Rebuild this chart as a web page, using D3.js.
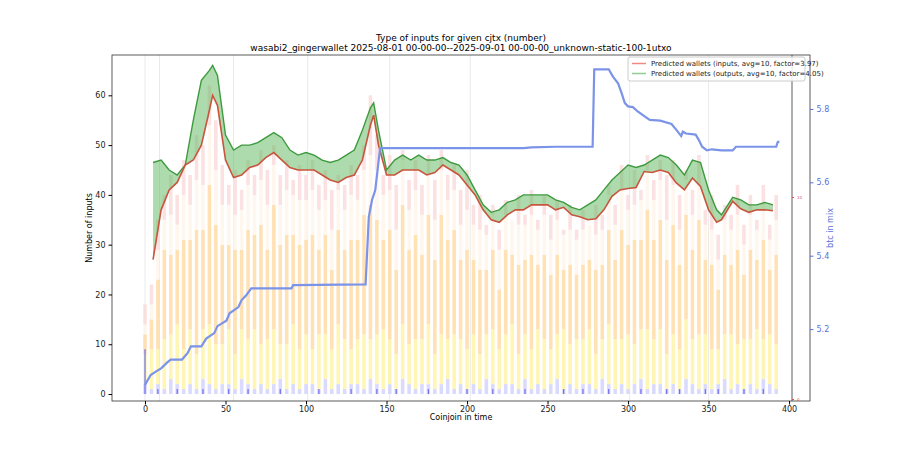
<!DOCTYPE html>
<html><head><meta charset="utf-8">
<script src="https://cdn.jsdelivr.net/npm/d3@7"></script>
<style>body{margin:0;background:#fff}text{font-family:"DejaVu Sans",sans-serif}</style>
</head><body><svg id="c" width="900" height="450"></svg>
<script>
const barX=d3.range(0,393,4);
const totals=[18,22,35,40,44,40,47,44,52,50,62,55,46,42,45,41,47,44,49,45,50,44,47,43,46,44,47,42,45,41,44,42,46,44,50,60,52,44,48,42,49,43,47,42,48,43,49,44,46,41,45,38,40,34,38,33,39,35,40,36,41,35,40,36,39,33,38,33,37,34,38,36,42,38,46,40,45,41,48,43,47,44,47,40,45,41,48,37,40,32,38,36,42,34,40,35,42,34,40];
const lav=[2,1,2,1,3,2,1,2,1,3,2,1,2,2,1,3,2,1,2,1,2,3,1,2,1,2,2,1,3,1,2,1,2,2,1,3,2,1,2,1,3,2,1,2,2,1,2,3,1,2,1,2,1,3,2,1,2,2,1,3,1,2,1,2,3,1,2,1,2,2,1,3,2,1,2,1,2,3,1,2,2,1,2,1,3,2,1,2,1,2,3,1,2,1,2,1,3,2,1];
const yel=[6,8,7,10,9,12,8,11,7,10,12,9,8,11,7,10,9,12,8,10,11,7,9,12,8,10,7,11,9,8,12,10,7,9,11,8,10,12,9,7,11,8,10,9,12,7,10,8,11,9,8,10,7,9,11,8,10,12,7,9,8,11,10,7,9,12,8,10,9,11,7,8,12,10,9,11,8,10,12,9,11,7,10,8,12,9,11,10,8,7,9,11,8,10,9,12,8,10,9];
const ora=[4,6,14,18,16,15,22,18,25,20,28,24,20,17,21,16,22,19,24,18,25,20,22,18,21,19,23,17,20,16,19,18,22,20,24,27,23,18,22,17,24,19,21,17,22,19,24,20,21,16,20,15,17,13,16,12,17,14,18,15,19,13,17,15,16,12,16,13,15,14,17,15,19,16,22,18,21,18,24,20,22,19,22,17,21,18,23,15,17,12,16,14,19,13,18,14,20,13,18];
const cream=[2,3,6,6,8,5,9,7,10,9,12,11,8,8,7,8,9,8,9,9,8,8,9,8,9,8,9,8,7,8,8,8,9,8,9,10,10,9,8,8,9,8,9,8,8,8,9,8,8,7,8,7,8,7,7,8,7,7,8,7,8,7,8,7,7,7,7,7,7,7,7,7,7,7,8,7,7,8,8,8,8,8,8,7,7,7,7,7,7,6,7,7,7,6,7,6,7,6,7];
const darkBlue=[9,0,1,0,0,1,0,0,0,1,0,0,0,1,0,0,1,0,0,0,0,1,0,0,0,0,0,1,0,0,0,0,1,0,0,0,1,0,0,1,0,0,0,0,1,0,0,0,0,0,1,0,0,0,1,0,0,0,0,1,0,0,0,0,0,1,0,0,1,0,0,0,1,0,0,0,0,1,0,0,0,1,0,1,0,0,0,1,0,1,0,0,0,1,0,0,1,0,0];
const predX=[5,10,15,20,25,30,35,40,42,45,50,55,60,65,70,75,80,85,90,95,100,105,110,115,120,125,130,135,140,142,145,150,155,160,165,170,175,180,185,190,195,200,205,210,215,220,225,230,235,240,245,250,255,260,265,270,275,280,285,290,295,300,305,310,315,320,325,330,335,340,345,350,355,358,365,370,375,380,385,390];
const predIn=[27,37,41,42.5,46,47,50,57,60,58,47,43.5,44,45.5,46,47.5,48.5,47,45.5,45,45,45,44,43,42.5,43.5,44,47,54,56,50,44,44,45,45,45,44,44.5,46,45,44,42,40,37,35,34.5,36,37,37,38,38,38,37,37.5,36,35.6,35,35.2,37,39.7,41,41.3,41.5,44.7,44.5,45,44.5,42.4,41,43.4,41.7,37,34.5,35,38.7,37.2,36.5,37,37,36.8];
const predOut=[46.5,47,45,44,46,55,63,65,66,64,52,49,50,50,50.5,51.5,52.5,51.5,49,48,48.5,48,47,46.5,47,48,49,53,57.5,58.5,53,45,47,48,47,48,47,47,47.5,46.5,46,44,41,38,36.5,37,38.5,39,40,40,40,40,39,38.5,37.5,37,38,39,41,43,44.5,46,45.5,46,47,48,47.5,46,44,47,46.5,41,37,36,39.5,39,38,38,38.5,38];
const btcX=[0,3.5,6.7,10,14,16,23,26.5,28.5,35,38,43,45,50.5,52.5,58,60,63,66,91,92,137,139,141,143,146,235,240,255,278,279,288,290.6,293.8,296,298,300,303,306,310.5,313.5,320,327,330,333,334,336,342,344,346,349,352,358,365,367,392,393,394];
const btc=[5.048,5.075,5.084,5.093,5.11,5.117,5.117,5.135,5.153,5.153,5.174,5.189,5.208,5.223,5.243,5.26,5.279,5.293,5.311,5.311,5.32,5.322,5.506,5.552,5.579,5.693,5.693,5.695,5.697,5.697,5.908,5.908,5.888,5.87,5.843,5.816,5.807,5.805,5.793,5.779,5.77,5.768,5.759,5.743,5.726,5.738,5.733,5.73,5.715,5.697,5.687,5.69,5.687,5.687,5.697,5.697,5.71,5.711];
const gridX=[0,9,55,101,152,202,301,350];
const xTicks=[0,50,100,150,200,250,300,350,400];
const yTicks=[0,10,20,30,40,50,60];
const btcTicks=[5.2,5.4,5.6,5.8];

const svg=d3.select("#c");
const L=112,R=810,T=55,B=401;
const x=d3.scaleLinear().domain([-20.5,413]).range([L,R]);
const y=d3.scaleLinear().domain([-1.4,68.1]).range([B,T]);
const yb=d3.scaleLinear().domain([5.004,5.947]).range([B,T]);
const yr=d3.scaleLinear().domain([0,10]).range([B-2,197]);

svg.append("g").selectAll("line").data(gridX).join("line")
 .attr("x1",d=>x(d)).attr("x2",d=>x(d)).attr("y1",T).attr("y2",B)
 .attr("stroke","#e4e4e4").attr("stroke-width",0.8);

const layers=[["lav",lav,"#d4d4ff"],["yel",yel,"#fff4a8"],["ora",ora,"#ffdca8"],["cream",cream,"#fff6ec"]];
const bw=x(2.2)-x(0);
const bars=svg.append("g").attr("opacity",0.85);
barX.forEach((bx,i)=>{
  let base=0;
  layers.forEach(([n,arr,c])=>{
    bars.append("rect").attr("x",x(bx)-bw/2).attr("width",bw)
      .attr("y",y(base+arr[i])).attr("height",y(base)-y(base+arr[i])).attr("fill",c);
    base+=arr[i];
  });
  if(totals[i]>base) bars.append("rect").attr("x",x(bx)-bw/2).attr("width",bw)
      .attr("y",y(totals[i])).attr("height",y(base)-y(totals[i])).attr("fill","#fbdcdc");
  if(darkBlue[i]>0) bars.append("rect").attr("x",x(bx)-0.6).attr("width",1.2)
      .attr("y",y(darkBlue[i])).attr("height",y(0)-y(darkBlue[i])).attr("fill","#5555ee");
});

const pi=predX.map((d,i)=>[d,predIn[i],predOut[i]]);
svg.append("path").datum(pi).attr("d",d3.area().x(d=>x(d[0])).y0(d=>y(d[1])).y1(d=>y(d[2])))
 .attr("fill","#5cb85c").attr("fill-opacity",0.5);
svg.append("path").datum(pi).attr("d",d3.line().x(d=>x(d[0])).y(d=>y(d[2])))
 .attr("fill","none").attr("stroke","#3f9a3f").attr("stroke-width",1.4);
svg.append("path").datum(pi).attr("d",d3.line().x(d=>x(d[0])).y(d=>y(d[1])))
 .attr("fill","none").attr("stroke","#c8553d").attr("stroke-width",1.6);
svg.append("path").datum(btcX.map((d,i)=>[d,btc[i]])).attr("d",d3.line().x(d=>x(d[0])).y(d=>yb(d[1])))
 .attr("fill","none").attr("stroke","#7b93e8").attr("stroke-width",2.2);

svg.append("rect").attr("x",L).attr("y",T).attr("width",R-L).attr("height",B-T).attr("fill","none").attr("stroke","#333").attr("stroke-width",0.8);
svg.append("line").attr("x1",792).attr("x2",792).attr("y1",T).attr("y2",B).attr("stroke","#333").attr("stroke-width",0.8);

const xa=svg.append("g").attr("transform",`translate(0,${B})`).call(d3.axisBottom(x).tickValues(xTicks).tickSize(3.5).tickFormat(d3.format("d")));
const ya=svg.append("g").attr("transform",`translate(${L},0)`).call(d3.axisLeft(y).tickValues(yTicks).tickSize(3.5));
const ba=svg.append("g").attr("transform",`translate(${R},0)`).call(d3.axisRight(yb).tickValues(btcTicks).tickSize(3.5).tickFormat(d3.format(".1f")));
const ra=svg.append("g").attr("transform",`translate(792,0)`).call(d3.axisRight(yr).tickValues([0,10]).tickSize(2));
[xa,ya,ba,ra].forEach(a=>{a.select(".domain").remove();a.selectAll("text").attr("font-size",8).attr("fill","#222");});
xa.selectAll("text").attr("dy","0.6em");
ba.selectAll("text").attr("fill","#5b70d8");ba.selectAll("line").attr("stroke","#5b70d8");
ra.selectAll("text").attr("fill","#e05050").attr("font-size",4);ra.selectAll("line").attr("stroke","#e05050");

svg.append("text").attr("x",461).attr("y",41).attr("text-anchor","middle").attr("font-size",9).text("Type of inputs for given cjtx (number)");
svg.append("text").attr("x",461).attr("y",51).attr("text-anchor","middle").attr("font-size",9).text("wasabi2_gingerwallet 2025-08-01 00-00-00--2025-09-01 00-00-00_unknown-static-100-1utxo");
svg.append("text").attr("x",461).attr("y",420).attr("text-anchor","middle").attr("font-size",8).text("Coinjoin in time");
svg.append("text").attr("transform","translate(92,228) rotate(-90)").attr("text-anchor","middle").attr("font-size",8).text("Number of inputs");
svg.append("text").attr("transform","translate(833,228) rotate(-90)").attr("text-anchor","middle").attr("font-size",8).attr("fill","#5b70d8").text("btc in mix");

const lg=svg.append("g");
lg.append("rect").attr("x",628).attr("y",57).attr("width",177).attr("height",24).attr("fill","#fff").attr("fill-opacity",0.85).attr("stroke","#ccc").attr("rx",2);
[["Predicted wallets (inputs, avg=10, factor=3.97)","#f08a80",66],["Predicted wallets (outputs, avg=10, factor=4.05)","#8fce8f",76]].forEach(([t,c,yy])=>{
  lg.append("line").attr("x1",632).attr("x2",646).attr("y1",yy-2.5).attr("y2",yy-2.5).attr("stroke",c).attr("stroke-width",1.5);
  lg.append("text").attr("x",651).attr("y",yy).attr("font-size",7).attr("fill","#222").text(t);
});
</script></body></html>
